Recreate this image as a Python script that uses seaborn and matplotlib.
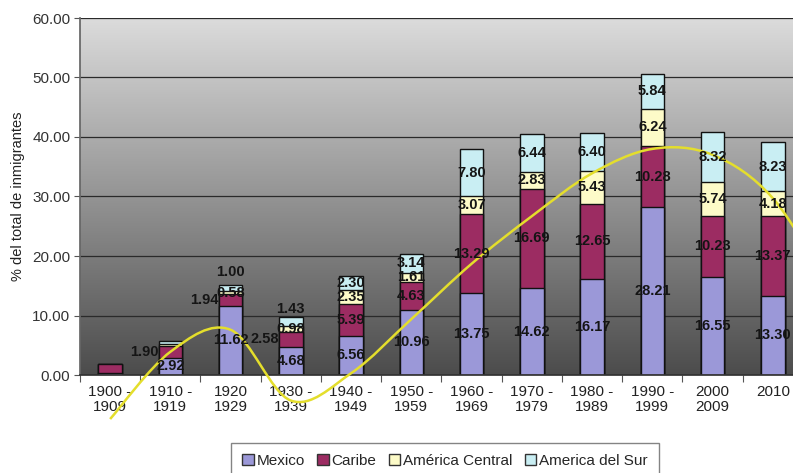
import matplotlib
matplotlib.use("Agg")
import matplotlib.pyplot as plt
import numpy as np
import pandas as pd
import seaborn as sns
from matplotlib.colors import LinearSegmentedColormap
from matplotlib.patches import Patch, PathPatch
from matplotlib.path import Path

# datos
periodos = ['1900 -\n1909', '1910 -\n1919', '1920\n1929', '1930 -\n1939', '1940 -\n1949',
            '1950 -\n1959', '1960 -\n1969', '1970 -\n1979', '1980 -\n1989', '1990 -\n1999',
            '2000\n2009', '2010']
mexico = [0.30, 2.92, 11.62, 4.68, 6.56, 10.96, 13.75, 14.62, 16.17, 28.21, 16.55, 13.30]
caribe = [1.60, 1.90, 1.94, 2.58, 5.39, 4.63, 13.29, 16.69, 12.65, 10.28, 10.23, 13.37]
america_central = [0.00, 0.35, 0.58, 0.98, 2.35, 1.61, 3.07, 2.83, 5.43, 6.24, 5.74, 4.18]
america_sur = [0.00, 0.60, 1.00, 1.43, 2.30, 3.14, 7.80, 6.44, 6.40, 5.84, 8.32, 8.23]
# linea de tendencia (continua fuera del recorte por la derecha)
tendencia = [-7.4, 3.9, 7.6, -4.3, 0.3, 9.4, 18.7, 26.7, 33.9, 38.0, 37.0, 29.7, 14.0]

series = ['Mexico', 'Caribe', 'América Central', 'America del Sur']
colores = ['#9b98d8', '#9c2c62', '#fdfbc8', '#c9eef3']

sns.set_theme(style='white')
plt.rcParams['font.family'] = ['Liberation Sans', 'DejaVu Sans']

df = pd.DataFrame({'periodo': periodos, 'Mexico': mexico, 'Caribe': caribe,
                   'América Central': america_central, 'America del Sur': america_sur})
acum = df[series].cumsum(axis=1)
acum['periodo'] = df['periodo']

fig = plt.figure(figsize=(7.93, 4.73), dpi=100)
ax = fig.add_axes([80 / 793, 98 / 473, 723 / 793, 357 / 473])

# fondo degradado
cmap = LinearSegmentedColormap.from_list('fondo', ['#4c4c4c', '#dcdcdc'])
ax.imshow(np.linspace(0, 1, 256).reshape(-1, 1), cmap=cmap, origin='lower',
          extent=(-0.5, 11.5, 0, 60), aspect='auto', zorder=-2)

# barras apiladas: de la suma total hacia abajo
for serie, color in reversed(list(zip(series, colores))):
    sns.barplot(data=acum, x='periodo', y=serie, order=periodos, color=color,
                saturation=1, width=0.39, edgecolor='#111111', linewidth=1.0,
                errorbar=None, ax=ax, zorder=2)

# etiquetas de datos
valores = [mexico, caribe, america_central, america_sur]
for i in range(len(periodos)):
    base = 0
    for k, vals in enumerate(valores):
        v = vals[i]
        if i == 0 or (i == 1 and k >= 2):
            base += v
            continue
        x, y, ha, va = i, base + v / 2, 'center', 'center'
        if k == 1 and i in (1, 2, 3):
            x, ha = i - 0.2, 'right'
        if k == 3 and i in (2, 3):
            y, va = base + v + (1.0 if i == 2 else 0.3), 'bottom'
        ax.text(x, y, f'{v:.2f}', ha=ha, va=va, fontsize=10.5, fontweight='bold',
                color='#151515', zorder=5)
        base += v

# linea de tendencia suavizada (bezier tipo Excel)
pts = np.column_stack([np.arange(len(tendencia)), tendencia])
verts, codes = [pts[0]], [Path.MOVETO]
n = len(pts)
for i in range(n - 1):
    p0, p1, p2, p3 = pts[max(i - 1, 0)], pts[i], pts[i + 1], pts[min(i + 2, n - 1)]
    verts += [p1 + (p2 - p0) / 6, p2 - (p3 - p1) / 6, p2]
    codes += [Path.CURVE4] * 3
ax.add_patch(PathPatch(Path(verts, codes), fill=False, edgecolor='#e4de2c',
                       linewidth=1.8, clip_on=False, zorder=4))

ax.set_xlim(-0.5, 11.5)
ax.set_ylim(0, 60)
ax.set_yticks(np.arange(0, 61, 10))
ax.set_yticklabels([f'{t:.2f}' for t in np.arange(0, 61, 10)])
ax.yaxis.grid(True, color='#2a2a2a', linewidth=0.9)
ax.set_axisbelow(True)
ax.set_xlabel('')
ax.set_ylabel('% del total de inmigrantes', fontsize=10.5, color='#222222', labelpad=5)
ax.set_xticks(range(len(periodos)))
ax.set_xticklabels(periodos, fontsize=11, color='#222222', linespacing=1.1)
ax.set_xticks(np.arange(-0.5, 11.6, 1), minor=True)
ax.tick_params(axis='x', which='major', length=0, pad=7)
ax.tick_params(axis='x', which='minor', length=5, width=0.8, color='#555555', direction='out', bottom=True)
ax.tick_params(axis='y', length=4, width=0.8, color='#555555', direction='out', left=True,
               labelsize=11, labelcolor='#333333', pad=3)
for lado in ['top', 'right']:
    ax.spines[lado].set_visible(False)
ax.spines['left'].set_color('#666666')
ax.spines['bottom'].set_color('#333333')

handles = [Patch(facecolor=c, edgecolor='#333333', linewidth=1.0) for c in colores]
fig.legend(handles, series, loc='upper center', bbox_to_anchor=(445 / 793, 1 - 443 / 473),
           ncol=4, frameon=True, fancybox=False, edgecolor='#666666', fontsize=11,
           handlelength=0.75, handleheight=0.75, handletextpad=0.2, columnspacing=0.8,
           borderpad=0.7, borderaxespad=0)

fig.savefig('out.png', dpi=100)
